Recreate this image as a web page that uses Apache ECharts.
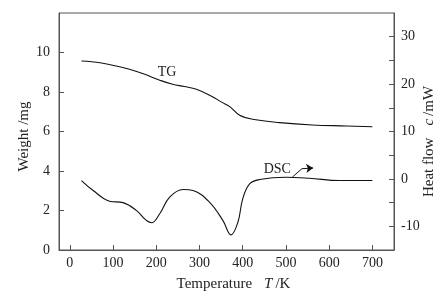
<!DOCTYPE html>
<html>
<head>
<meta charset="utf-8">
<script src="https://cdn.jsdelivr.net/npm/echarts@6/dist/echarts.min.js"></script>
<style>
  html, body { margin: 0; padding: 0; background: #fff; }
  #main { width: 447px; height: 302px; }
</style>
</head>
<body>
<div id="main"></div>
<script>
// TG curve: [temperature K, weight mg]
const tgData = [
  [27, 9.57], [70, 9.48], [115, 9.28], [138, 9.15], [170, 8.92], [208, 8.6],
  [238, 8.39], [265, 8.28], [293, 8.14], [330, 7.76], [350, 7.5], [370, 7.26],
  [393, 6.82], [423, 6.62], [485, 6.45], [561, 6.33], [640, 6.28], [700, 6.24]
];
// DSC curve: [temperature K, heat flow mW]
const dscData = [
  [27, -0.35], [54, -2.45], [92, -4.7], [123, -5.0], [154, -6.65], [175, -8.6],
  [189, -9.25], [208, -7.35], [231, -3.85], [262, -2.24], [285, -2.45],
  [323, -4.9], [354, -8.75], [373, -11.8], [389, -9.1], [400, -4.2],
  [416, -1.05], [439, -0.14], [500, 0.35], [554, 0.14], [624, -0.35], [700, -0.35]
];
const xTicks = [0, 100, 200, 300, 400, 500, 600, 700];
const leftTicks = [0, 2, 4, 6, 8, 10];
const rightTicks = [-10, -5, 0, 5, 10, 15, 20, 25, 30];
const rightLabels = [-10, 0, 10, 20, 30];

const font = 'Liberation Serif';
const axisColor = '#555';
const textColor = '#222';

const chart = echarts.init(document.getElementById('main'), null, { renderer: 'canvas' });

const richName = {
  n: { fontFamily: font, fontSize: 15, color: textColor },
  i: { fontFamily: font, fontSize: 15, color: textColor, fontStyle: 'italic' }
};
const noteLabel = (txt) => ({
  show: true, position: 'inside', formatter: txt,
  fontFamily: font, fontSize: 14, color: textColor
});

chart.setOption({
  animation: false,
  textStyle: { fontFamily: font },
  grid: {
    left: 59, right: 53, top: 13, bottom: 52,
    containLabel: false, outerBoundsMode: 'none',
    show: true, borderColor: axisColor, borderWidth: 1
  },
  xAxis: {
    type: 'value', min: -25, max: 750,
    name: '{n|Temperature}    {i|T} {n|/K}',
    nameLocation: 'middle', nameGap: 27, nameMoveOverlap: false,
    nameTextStyle: { rich: richName, padding: [0, 0, 0, 14] },
    axisLine: { onZero: false, lineStyle: { color: axisColor } },
    axisTick: { inside: true, length: 5, customValues: xTicks, lineStyle: { color: axisColor } },
    axisLabel: { customValues: xTicks, fontFamily: font, fontSize: 14, color: textColor, margin: 6 },
    splitLine: { show: false }
  },
  yAxis: [
    {
      type: 'value', min: 0, max: 12, position: 'left',
      name: 'Weight /mg', nameLocation: 'middle', nameGap: 27, nameRotate: 90, nameMoveOverlap: false,
      nameTextStyle: { fontFamily: font, fontSize: 15, color: textColor, padding: [0, 10, 0, 0] },
      axisLine: { show: true, onZero: false, lineStyle: { color: axisColor } },
      axisTick: { inside: true, length: 5, customValues: leftTicks, lineStyle: { color: axisColor } },
      axisLabel: { customValues: leftTicks, fontFamily: font, fontSize: 14, color: textColor, margin: 9 },
      splitLine: { show: false }
    },
    {
      type: 'value', min: -15, max: 35, position: 'right',
      name: '{n|Heat flow}    {i|c} {n|/mW}', nameLocation: 'middle', nameGap: 28, nameRotate: 90,
      nameMoveOverlap: false,
      nameTextStyle: { rich: richName, padding: [0, 20, 0, 0] },
      axisLine: { show: true, onZero: false, lineStyle: { color: axisColor } },
      axisTick: { inside: true, length: 5, customValues: rightTicks, lineStyle: { color: axisColor } },
      axisLabel: { customValues: rightLabels, fontFamily: font, fontSize: 14, color: textColor, margin: 7 },
      splitLine: { show: false }
    }
  ],
  series: [
    {
      name: 'TG', type: 'line', yAxisIndex: 0, data: tgData,
      smooth: 0.4, showSymbol: false,
      lineStyle: { color: '#111', width: 1.1 },
      markPoint: {
        symbol: 'circle', symbolSize: 1, silent: true,
        itemStyle: { color: 'rgba(0,0,0,0)' },
        label: noteLabel('TG'),
        data: [{ coord: [225, 9.0] }]
      }
    },
    {
      name: 'DSC', type: 'line', yAxisIndex: 1, data: dscData,
      smooth: 0.4, showSymbol: false,
      lineStyle: { color: '#111', width: 1.1 },
      markPoint: {
        symbol: 'circle', symbolSize: 1, silent: true,
        itemStyle: { color: 'rgba(0,0,0,0)' },
        label: noteLabel('DSC'),
        data: [{ coord: [480, 2.1] }]
      },
      markLine: {
        silent: true, symbolSize: 7,
        label: { show: false },
        lineStyle: { color: '#111', width: 1, type: 'solid' },
        data: [
          [
            { coord: [515, 0.4], symbol: 'none', lineStyle: { curveness: -0.45 } },
            { coord: [537, 2.15], symbol: 'none' }
          ],
          [
            { coord: [537, 2.15], symbol: 'none' },
            { coord: [563, 2.3], symbol: 'arrow' }
          ]
        ]
      }
    }
  ]
});
</script>
</body>
</html>
